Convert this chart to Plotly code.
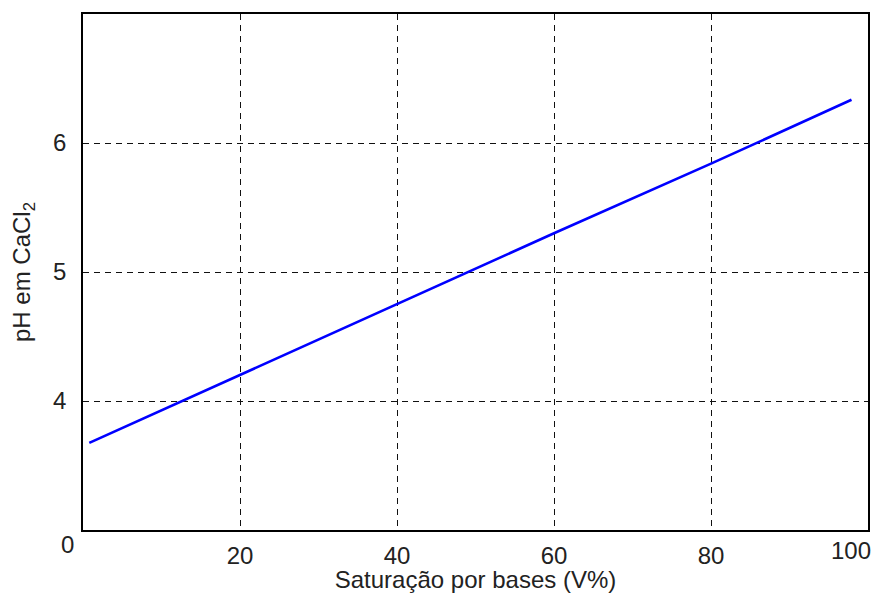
import plotly.graph_objects as go

# Data
saturacao = [0.8, 20, 40, 60, 80, 97.9]
ph_cacl2 = [3.675, 4.20, 4.75, 5.30, 5.84, 6.335]

x_ticks = [20, 40, 60, 80]
y_ticks = [4, 5, 6]

FONT = "Liberation Sans, Arial, sans-serif"
FS = 24
TXT = "#222"

fig = go.Figure()
fig.add_trace(go.Scatter(
    x=saturacao, y=ph_cacl2, mode="lines",
    line=dict(color="#0000ff", width=2.6),
    showlegend=False, hoverinfo="skip",
))

axis_common = dict(
    showline=True, linecolor="black", linewidth=1.5, mirror=True,
    showgrid=True, gridcolor="#111", gridwidth=1.2, griddash="6px,5px",
    zeroline=False, ticks="", automargin=False,
    tickfont=dict(family=FONT, size=FS, color=TXT),
)

fig.update_xaxes(
    range=[0, 100], tickvals=x_ticks, ticktext=[str(v) for v in x_ticks],
    ticklabelstandoff=3,
    title=dict(text="Saturação por bases (V%)", font=dict(family=FONT, size=FS, color=TXT), standoff=7),
    **axis_common,
)
fig.update_yaxes(
    range=[3, 7], tickvals=y_ticks, ticktext=[str(v) for v in y_ticks],
    ticklabelstandoff=10,
    title=dict(text="pH em CaCl<sub>2</sub>", font=dict(family=FONT, size=FS, color=TXT), standoff=18),
    **axis_common,
)

fig.add_annotation(text="0", xref="paper", yref="paper", x=0, y=0,
                   xanchor="center", yanchor="middle",
                   xshift=-16, yshift=-14, showarrow=False,
                   font=dict(family=FONT, size=FS, color=TXT))
fig.add_annotation(text="100", xref="paper", yref="paper", x=1, y=0,
                   xanchor="right", yanchor="middle",
                   xshift=5, yshift=-20, showarrow=False,
                   font=dict(family=FONT, size=FS, color=TXT))

# The page body adds an 8px margin on every side, so the figure is sized
# to fit inside the window without scrollbars.
fig.update_layout(
    width=866, height=585,
    margin=dict(l=75, r=6, t=6, b=63),
    paper_bgcolor="white", plot_bgcolor="white",
    font=dict(family=FONT),
)

fig.write_html("out.html")
